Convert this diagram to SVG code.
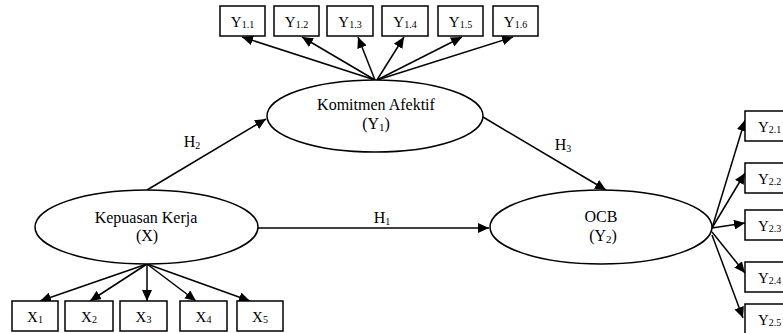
<svg xmlns="http://www.w3.org/2000/svg" width="783" height="333" viewBox="0 0 783 333" font-family="'Liberation Serif','Times New Roman',serif">
<style>
.n{fill:#fff;stroke:#000;stroke-width:1.5}
.b{fill:#fff;stroke:#000;stroke-width:1.5}
text{font-family:"Liberation Serif","Times New Roman",serif;fill:#000}
.t{font-size:16px;text-anchor:middle}
.bx{font-size:15px;text-anchor:middle}
.s{font-size:10px}
.c line{stroke:#000;stroke-width:1.5;marker-end:url(#ah)}
</style>
<defs>
<marker id="ah" markerUnits="userSpaceOnUse" markerWidth="12" markerHeight="10" refX="11" refY="5" orient="auto"><path d="M0,0 L11,5 L0,10 Z" fill="#000"/></marker>
</defs>
<rect width="783" height="333" fill="#fff"/>
<g class="c" id="connectors">
<line x1="147" y1="190" x2="266" y2="119"/>
<line x1="258" y1="228" x2="489" y2="228"/>
<line x1="483" y1="117" x2="606" y2="190"/>
<line x1="375" y1="80" x2="242" y2="37"/>
<line x1="375" y1="80" x2="302" y2="37"/>
<line x1="375" y1="80" x2="358" y2="37"/>
<line x1="377" y1="80" x2="404" y2="37"/>
<line x1="377" y1="80" x2="462" y2="37"/>
<line x1="377" y1="80" x2="513" y2="37"/>
<line x1="147" y1="264" x2="40" y2="301"/>
<line x1="147" y1="264" x2="90" y2="301"/>
<line x1="147" y1="264" x2="147" y2="301"/>
<line x1="147" y1="264" x2="196" y2="301"/>
<line x1="147" y1="264" x2="250" y2="301"/>
<line x1="712" y1="228" x2="745" y2="120"/>
<line x1="712" y1="228" x2="745" y2="173"/>
<line x1="712" y1="228" x2="745" y2="223"/>
<line x1="712" y1="232" x2="745" y2="273"/>
<line x1="712" y1="235" x2="743" y2="318"/>
</g>
<g id="labels">
<text class="t" x="192" y="147">H<tspan class="s" font-size="11" dy="2">2</tspan></text>
<text class="t" x="382" y="223">H<tspan class="s" font-size="11" dy="2">1</tspan></text>
<text class="t" x="563" y="150">H<tspan class="s" font-size="11" dy="2">3</tspan></text>
</g>
<g id="komitmen">
<ellipse class="n" cx="375" cy="116" rx="108" ry="36"/>
<text class="t" x="376" y="110">Komitmen Afektif</text>
<text class="t" x="376" y="129">(Y<tspan font-size="11" dy="2">1</tspan><tspan dy="-2">)</tspan></text>
</g>
<g id="kepuasan">
<ellipse class="n" cx="146.5" cy="227" rx="111.5" ry="37"/>
<text class="t" x="146" y="223">Kepuasan Kerja</text>
<text class="t" x="147" y="241">(X)</text>
</g>
<g id="ocb">
<ellipse class="n" cx="601" cy="227" rx="111" ry="37"/>
<text class="t" x="601" y="222">OCB</text>
<text class="t" x="603" y="241">(Y<tspan font-size="11" dy="2">2</tspan><tspan dy="-2">)</tspan></text>
</g>
<g id="y11"><rect class="b" x="220" y="6" width="45" height="30"/><text class="bx" x="242.5" y="27">Y<tspan class="s" dy="1">1.1</tspan></text></g>
<g id="y12"><rect class="b" x="274" y="6" width="45" height="30"/><text class="bx" x="296.5" y="27">Y<tspan class="s" dy="1">1.2</tspan></text></g>
<g id="y13"><rect class="b" x="327" y="6" width="46" height="30"/><text class="bx" x="350" y="27">Y<tspan class="s" dy="1">1.3</tspan></text></g>
<g id="y14"><rect class="b" x="382" y="6" width="46" height="30"/><text class="bx" x="405" y="27">Y<tspan class="s" dy="1">1.4</tspan></text></g>
<g id="y15"><rect class="b" x="438" y="6" width="45" height="30"/><text class="bx" x="460.5" y="27">Y<tspan class="s" dy="1">1.5</tspan></text></g>
<g id="y16"><rect class="b" x="493" y="6" width="45" height="30"/><text class="bx" x="515.5" y="27">Y<tspan class="s" dy="1">1.6</tspan></text></g>
<g id="x1"><rect class="b" x="12" y="301" width="46" height="30"/><text class="bx" x="35" y="322">X<tspan class="s" dy="1">1</tspan></text></g>
<g id="x2"><rect class="b" x="65" y="301" width="48" height="30"/><text class="bx" x="89" y="322">X<tspan class="s" dy="1">2</tspan></text></g>
<g id="x3"><rect class="b" x="120" y="301" width="47" height="30"/><text class="bx" x="143.5" y="322">X<tspan class="s" dy="1">3</tspan></text></g>
<g id="x4"><rect class="b" x="180" y="301" width="47" height="30"/><text class="bx" x="203.5" y="322">X<tspan class="s" dy="1">4</tspan></text></g>
<g id="x5"><rect class="b" x="237" y="301" width="46" height="30"/><text class="bx" x="260" y="322">X<tspan class="s" dy="1">5</tspan></text></g>
<g id="y21"><rect class="b" x="745" y="111" width="45" height="30"/><text x="758" y="132" font-size="15px">Y<tspan class="s" dy="1">2.1</tspan></text></g>
<g id="y22"><rect class="b" x="745" y="163" width="45" height="30"/><text x="758" y="184" font-size="15px">Y<tspan class="s" dy="1">2.2</tspan></text></g>
<g id="y23"><rect class="b" x="745" y="210" width="45" height="30"/><text x="758" y="231" font-size="15px">Y<tspan class="s" dy="1">2.3</tspan></text></g>
<g id="y24"><rect class="b" x="745" y="262" width="45" height="30"/><text x="758" y="283" font-size="15px">Y<tspan class="s" dy="1">2.4</tspan></text></g>
<g id="y25"><rect class="b" x="745" y="304" width="45" height="30"/><text x="758" y="325" font-size="15px">Y<tspan class="s" dy="1">2.5</tspan></text></g>
</svg>
